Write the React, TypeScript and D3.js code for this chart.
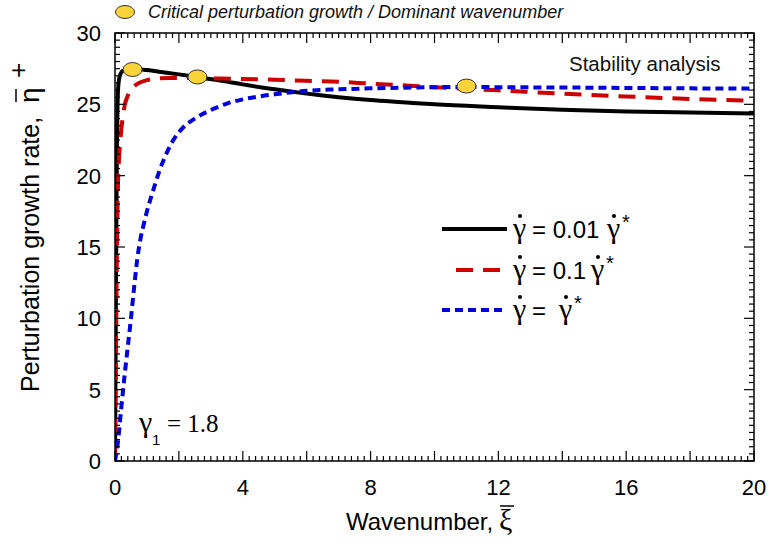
import React from 'react';
import * as d3 from 'd3';

// ---- Data ----
const xBlack = [0, 0.02, 0.04, 0.06, 0.08, 0.1, 0.15, 0.25, 0.5, 0.8, 1.0, 1.5, 2, 2.6, 3.2, 4, 5, 6, 7, 8, 9, 10, 12, 14, 16, 18, 20];
const yBlack = [0, 8, 16, 22, 25, 26.2, 27.0, 27.35, 27.48, 27.45, 27.4, 27.25, 27.1, 26.9, 26.7, 26.4, 26.05, 25.75, 25.5, 25.3, 25.15, 25.0, 24.8, 24.62, 24.5, 24.42, 24.35];

const xRed = [0, 0.02, 0.04, 0.06, 0.08, 0.1, 0.12, 0.16, 0.2, 0.25, 0.3, 0.4, 0.5, 0.65, 0.8, 1.0, 1.3, 1.7, 2.2, 3, 4, 5, 6, 7, 8, 9, 10, 12, 14, 16, 18, 20];
const yRed = [0, 5, 10, 14.5, 18, 20, 21, 22.3, 23.3, 24.2, 24.9, 25.6, 26.0, 26.35, 26.55, 26.7, 26.8, 26.85, 26.85, 26.82, 26.78, 26.72, 26.65, 26.58, 26.45, 26.33, 26.2, 25.98, 25.75, 25.55, 25.38, 25.25];

const xBlue = [0, 0.1, 0.2, 0.3, 0.4, 0.5, 0.6, 0.7, 0.8, 0.9, 1.0, 1.2, 1.4, 1.6, 1.8, 2.1, 2.5, 3.0, 3.5, 4, 4.5, 5, 6, 7, 8, 10, 11, 12, 14, 16, 18, 20];
const yBlue = [0, 1.5, 3.8, 6, 8, 10, 12.2, 14.2, 15.6, 16.6, 17.5, 19.0, 20.4, 21.5, 22.4, 23.3, 24.0, 24.6, 25.05, 25.35, 25.55, 25.7, 25.95, 26.05, 26.12, 26.2, 26.22, 26.2, 26.18, 26.15, 26.12, 26.1];

const markerX = [0.55, 2.58, 11.0];
const markerY = [27.44, 26.92, 26.28];

const xTickLabels = [0, 4, 8, 12, 16, 20];
const yTickLabels = [0, 5, 10, 15, 20, 25, 30];

const seriesLabels = ['= 0.01', '= 0.1', '='];
const seriesColors = ['#000000', '#cc0000', '#0000dd'];
const seriesDash = ['none', '17 10', '8 5'];

const SANS = '"Liberation Sans", Arial, sans-serif';
const SERIF = '"Liberation Serif", "Times New Roman", serif';

export default function App() {
  const W = 768, H = 543;
  const L = 115, R = 754, T = 33, B = 461;
  const x = d3.scaleLinear().domain([0, 20]).range([L, R]);
  const y = d3.scaleLinear().domain([0, 30]).range([B, T]);
  const line = d3.line<[number, number]>().x(d => x(d[0])).y(d => y(d[1])).curve(d3.curveMonotoneX);

  const series = [
    xBlack.map((v, i) => [v, yBlack[i]] as [number, number]),
    xRed.map((v, i) => [v, yRed[i]] as [number, number]),
    xBlue.map((v, i) => [v, yBlue[i]] as [number, number]),
  ];

  const xMinor = d3.range(0, 20.0001, 0.2);
  const xMajor = d3.range(0, 20.0001, 2);
  const yMinor = d3.range(0, 30.0001, 0.5);
  const yMajor = d3.range(0, 30.0001, 5);

  const ticks: any[] = [];
  xMinor.forEach((v, i) => {
    const isMaj = xMajor.some(m => Math.abs(m - v) < 1e-6);
    const len = isMaj ? 10 : 5;
    ticks.push(<line key={'xb' + i} x1={x(v)} x2={x(v)} y1={B} y2={B - len} />);
    ticks.push(<line key={'xt' + i} x1={x(v)} x2={x(v)} y1={T} y2={T + len} />);
  });
  yMinor.forEach((v, i) => {
    const isMaj = yMajor.some(m => Math.abs(m - v) < 1e-6);
    const len = isMaj ? 10 : 5;
    ticks.push(<line key={'yl' + i} x1={L} x2={L + len} y1={y(v)} y2={y(v)} />);
    ticks.push(<line key={'yr' + i} x1={R} x2={R - len} y1={y(v)} y2={y(v)} />);
  });

  const legendRows = [229, 270, 310];
  const gamma2X = [607, 591, 559];
  const starX = [622, 606, 574];

  return (
    <svg width={W} height={H} style={{ position: 'absolute', left: 0, top: 0, background: '#fff' }}>
      <defs>
        <clipPath id="plotClip">
          <rect x={L} y={T} width={R - L} height={B - T} />
        </clipPath>
      </defs>
      <rect x={0} y={0} width={W} height={H} fill="#fff" />

      {/* curves */}
      <g clipPath="url(#plotClip)" fill="none">
        {series.map((s, i) => (
          <path key={i} d={line(s) || ''} stroke={seriesColors[i]} strokeWidth={4}
            strokeDasharray={seriesDash[i]} strokeLinejoin="round" />
        ))}
      </g>

      {/* frame and ticks */}
      <g stroke="#000" strokeWidth={1.2}>{ticks}</g>
      <rect x={L} y={T} width={R - L} height={B - T} fill="none" stroke="#000" strokeWidth={1.5} />

      {/* markers */}
      {markerX.map((v, i) => (
        <ellipse key={i} cx={x(v)} cy={y(markerY[i])} rx={9.5} ry={7} fill="#f8d33a" stroke="#333" strokeWidth={1} />
      ))}

      {/* tick labels */}
      <g fontFamily={SANS} fontSize={22} fill="#000">
        {xTickLabels.map(v => (
          <text key={'xl' + v} x={x(v)} y={495} textAnchor="middle">{v}</text>
        ))}
        {yTickLabels.map(v => (
          <text key={'yl' + v} x={101} y={y(v) + 8} textAnchor="end">{v}</text>
        ))}
      </g>

      {/* x axis title */}
      <text x={346} y={530} fontFamily={SANS} fontSize={24} fill="#000">Wavenumber,</text>
      <text x={499} y={530} fontFamily={SERIF} fontSize={30} fill="#000">ξ</text>
      <line x1={500} x2={514} y1={506} y2={506} stroke="#000" strokeWidth={1.5} />

      {/* y axis title */}
      <g transform="translate(39,392) rotate(-90)">
        <text x={0} y={0} fontFamily={SANS} fontSize={25} fill="#000">Perturbation growth rate,</text>
        <text x={289} y={0} fontFamily={SANS} fontSize={28} fill="#000">η</text>
        <line x1={290} x2={303} y1={-23} y2={-23} stroke="#000" strokeWidth={1.5} />
        <text x={314} y={-12} fontFamily={SANS} fontSize={26} fill="#000">+</text>
      </g>

      {/* top legend */}
      <ellipse cx={125} cy={12} rx={9.5} ry={6.5} fill="#f8d33a" stroke="#333" strokeWidth={1} />
      <text x={148} y={18} fontFamily={SANS} fontStyle="italic" fontSize={18} fill="#111">
        Critical perturbation growth / Dominant wavenumber
      </text>

      <text x={569} y={71} fontFamily={SANS} fontSize={20.5} fill="#111">Stability analysis</text>

      {/* gamma annotation */}
      <text x={139} y={432} fontFamily={SERIF} fontSize={30} fill="#000">γ</text>
      <text x={152} y={445} fontFamily={SANS} fontSize={15} fill="#000">1</text>
      <text x={167} y={432} fontFamily={SERIF} fontSize={25} fill="#000">= 1.8</text>

      {/* series legend */}
      {legendRows.map((ry, i) => (
        <g key={'lg' + i}>
          <line x1={i === 1 ? 456 : 442} x2={i === 1 ? 503 : 507} y1={ry} y2={ry}
            stroke={seriesColors[i]} strokeWidth={4} strokeDasharray={seriesDash[i]} />
          <text x={513} y={ry + 9} fontFamily={SERIF} fontSize={30} fill="#000">γ</text>
          <circle cx={520} cy={ry - 13} r={2} fill="#000" />
          <text x={532} y={ry + 9} fontFamily={SANS} fontSize={24} fill="#000">{seriesLabels[i]}</text>
          <text x={gamma2X[i]} y={ry + 9} fontFamily={SERIF} fontSize={30} fill="#000">γ</text>
          <circle cx={gamma2X[i] + 7} cy={ry - 13} r={2} fill="#000" />
          <text x={starX[i]} y={ry} fontFamily={SANS} fontSize={20} fill="#000">*</text>
        </g>
      ))}
    </svg>
  );
}
